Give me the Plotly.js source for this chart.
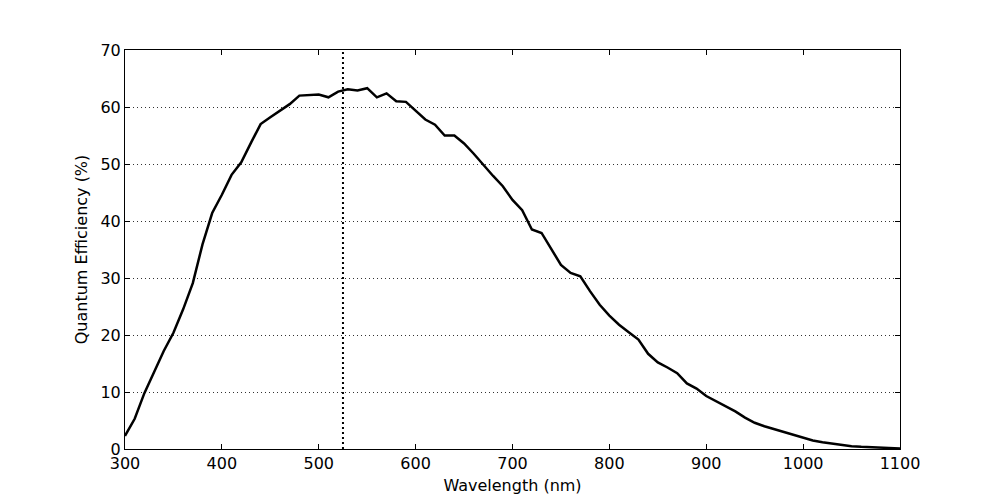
<!DOCTYPE html>
<html>
<head>
<meta charset="utf-8">
<script src="https://cdn.plot.ly/plotly-3.0.1.min.js"></script>
<style>
  html, body { margin: 0; padding: 0; background: #fff; }
  #qe { width: 1000px; height: 500px; }
</style>
</head>
<body>
<div id="qe"></div>
<script>
// quantum efficiency curve, 10 nm steps
var wavelength = [];
for (var w = 300; w <= 1100; w += 10) { wavelength.push(w); }

var qe = [
  2.3, 5.3, 9.8, 13.6, 17.2, 20.4, 24.5, 29.1, 35.9, 41.4,
  44.6, 48.1, 50.3, 53.7, 57.0, 58.2, 59.4, 60.5, 62.0, 62.1,
  62.2, 61.7, 62.7, 63.1, 62.9, 63.3, 61.7, 62.4, 61.0, 60.9,
  59.4, 57.8, 56.9, 55.0, 55.0, 53.6, 51.8, 49.8, 47.9, 46.1,
  43.7, 41.9, 38.5, 37.9, 35.1, 32.3, 30.9, 30.3, 27.7, 25.3,
  23.4, 21.8, 20.5, 19.2, 16.7, 15.2, 14.3, 13.3, 11.5, 10.6,
  9.3, 8.4, 7.6, 6.6, 5.5, 4.6, 4.0, 3.5, 3.1, 2.5,
  2.1, 1.5, 1.2, 0.95, 0.7, 0.5, 0.38, 0.28, 0.2, 0.15,
  0.1
];

var markerWavelength = 525;

var xTicks = [300, 400, 500, 600, 700, 800, 900, 1000, 1100];
var yTicks = [0, 10, 20, 30, 40, 50, 60, 70];

var trace = {
  x: wavelength,
  y: qe,
  mode: 'lines',
  type: 'scatter',
  line: {color: '#000', width: 2.5},
  hoverinfo: 'x+y'
};

var layout = {
  width: 1000,
  height: 500,
  showlegend: false,
  paper_bgcolor: '#fff',
  plot_bgcolor: '#fff',
  font: {family: 'DejaVu Sans', size: 16, color: '#000'},
  margin: {l: 125, r: 100, t: 50, b: 51, pad: 0},
  xaxis: {
    range: [300, 1100],
    tickmode: 'array',
    tickvals: xTicks,
    ticks: 'inside',
    ticklen: 5,
    tickcolor: '#000',
    showline: true,
    linecolor: '#000',
    linewidth: 1,
    mirror: 'ticks',
    showgrid: false,
    zeroline: false,
    title: {text: 'Wavelength (nm)', standoff: 7, font: {size: 16}}
  },
  yaxis: {
    range: [0, 70],
    tickmode: 'array',
    tickvals: yTicks,
    ticks: 'inside',
    ticklen: 5,
    tickcolor: '#000',
    showline: true,
    linecolor: '#000',
    linewidth: 1,
    mirror: 'ticks',
    showgrid: true,
    gridcolor: '#000',
    gridwidth: 0.8,
    griddash: '1px,3px',
    zeroline: false,
    title: {text: 'Quantum Efficiency (%)', standoff: 8, font: {size: 16}}
  },
  shapes: [{
    type: 'line',
    xref: 'x', yref: 'paper',
    x0: markerWavelength, x1: markerWavelength,
    y0: 0, y1: 1,
    line: {color: '#000', width: 2, dash: '2px,3px'}
  }]
};

Plotly.newPlot('qe', [trace], layout, {displayModeBar: false, staticPlot: true});
</script>
</body>
</html>
